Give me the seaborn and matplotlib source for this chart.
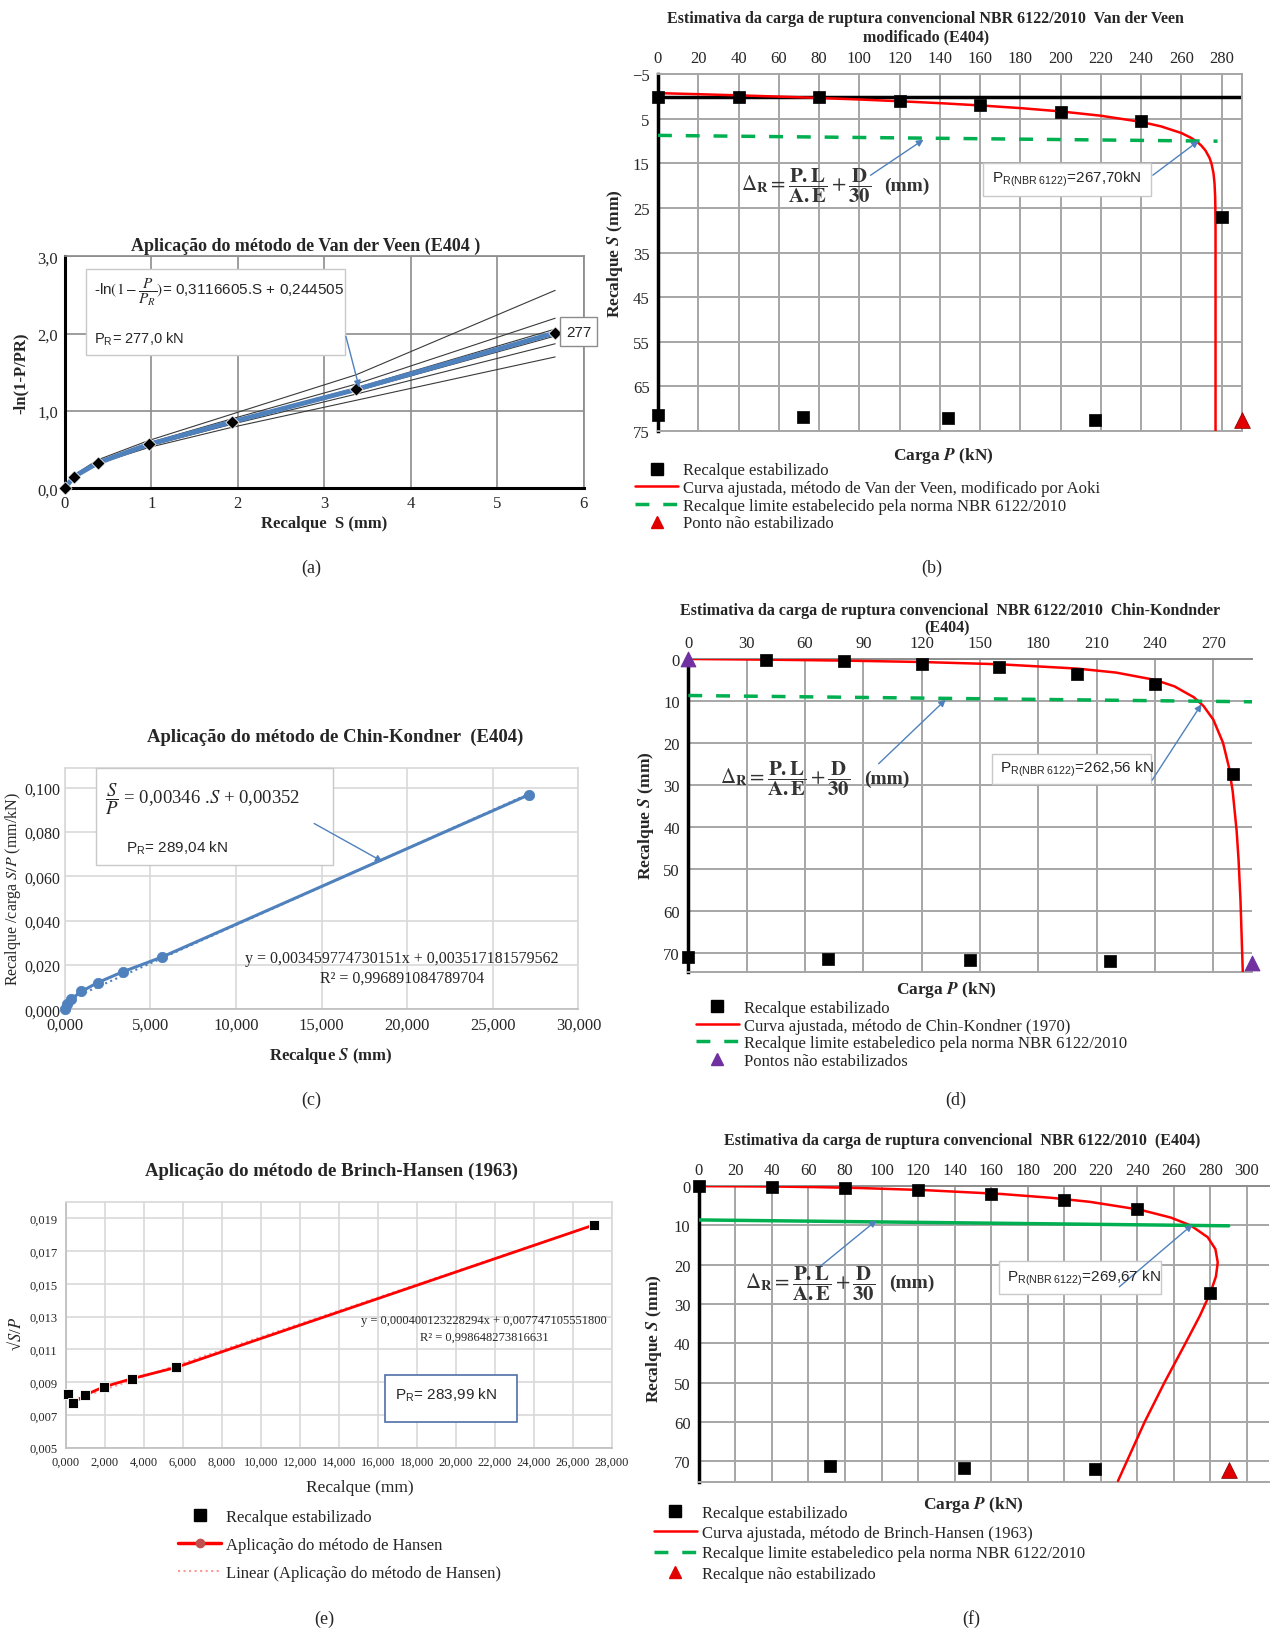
import numpy as np
import pandas as pd
import matplotlib
matplotlib.use('Agg')
import matplotlib.pyplot as plt
import seaborn as sns
from matplotlib.ticker import FuncFormatter
from matplotlib.patches import Rectangle, FancyArrowPatch
from matplotlib.lines import Line2D

# ---------------- DATA ----------------
# (a) Van der Veen linearisation
a_S = [0.0, 0.1, 0.38, 0.97, 1.93, 3.37, 5.67]
a_Y = [0.0, 0.15, 0.33, 0.57, 0.86, 1.28, 2.01]
a_fan_1 = [0.0, 0.17, 0.37, 0.62, 0.96, 1.47, 2.56]
a_fan_2 = [0.0, 0.16, 0.35, 0.59, 0.90, 1.35, 2.20]
a_fan_3 = [0.0, 0.16, 0.34, 0.57, 0.87, 1.30, 2.06]
a_fan_4 = [0.0, 0.16, 0.34, 0.56, 0.85, 1.26, 1.97]
a_fan_5 = [0.0, 0.15, 0.33, 0.55, 0.83, 1.22, 1.87]
a_fan_6 = [0.0, 0.15, 0.32, 0.53, 0.79, 1.14, 1.70]

# load-settlement test data (b, d, f)
load_P = [0, 40, 80, 120, 160, 200, 240, 280]
b_S = [0.0, 0.1, 0.2, 1.0, 1.8, 3.4, 5.5, 27.0]
d_S = [0.0, 0.2, 0.6, 1.2, 2.0, 3.6, 5.9, 27.3]
f_S = [0.0, 0.2, 0.5, 1.1, 2.1, 3.5, 5.8, 27.3]
low_P_b = [0, 72, 144, 217]
low_S_b = [71.4, 71.9, 72.2, 72.6]
low_P_d = [0, 72, 145, 217]
low_S_d = [71.1, 71.4, 71.6, 71.9]
low_P_f = [72, 145, 217]
low_S_f = [71.3, 71.6, 71.9]
unst_P = 290
unst_S_b = 72.5
unst_S_d = 72.5
unst_S_f = 72.3

# (b) fitted Van der Veen (Aoki) curve
vdv_P = [0, 20, 40, 60, 80, 100, 120, 140, 160, 180, 200, 220, 240, 250, 260, 265,
         268, 270, 272, 274, 275, 276, 276.5, 276.8, 276.9, 277.0, 277.0]
vdv_S = [-0.78, -0.54, -0.28, 0.0, 0.31, 0.65, 1.04, 1.47, 1.98, 2.58, 3.32, 4.29, 5.67, 6.69, 8.17, 9.29,
         10.21, 11.02, 12.1, 13.73, 15.04, 17.26, 19.49, 22.42, 24.65, 30.0, 75.0]
# (d) fitted Chin-Kondner curve
chin_P = [0, 40, 80, 120, 160, 200, 220, 240, 250, 260, 265, 270, 275, 278, 280, 282, 283, 284, 285.2]
chin_S = [0.0, 0.16, 0.39, 0.72, 1.26, 2.29, 3.24, 4.98, 6.52, 9.12, 11.22, 14.44, 19.96, 25.67, 31.6,
          40.9, 47.8, 57.6, 75.0]
# (f) fitted Brinch-Hansen curve
bh_S = [0, 0.1, 0.25, 0.5, 1, 2, 3, 4, 6, 8, 10, 13, 16, 19.4, 23, 27, 33, 40, 50, 60, 75]
bh_P = [0, 40.6, 63.7, 89.0, 122.7, 165.5, 193.6, 214.0, 241.4, 258.3, 269.2, 278.5, 282.7, 284.0,
        283.0, 280.1, 274.2, 266.3, 254.8, 244.0, 229.4]
# NBR 6122 limit line (P, S)
lim_P = [0, 278]
lim_S_b = [8.7, 10.0]
lim_P_d = [0, 290]
lim_S_d = [8.7, 10.2]
lim_P_f = [0, 290]
lim_S_f = [8.6, 10.1]

# (c) Chin-Kondner linearisation
c_S = [0.0, 0.1, 0.38, 0.97, 1.93, 3.37, 5.67, 27.1]
c_Y = [0.0, 0.0025, 0.0047, 0.0081, 0.0121, 0.0169, 0.0236, 0.0968]
c_trend_S = [0.0, 27.1]
c_trend_Y = [0.0035, 0.0972]

# (e) Brinch-Hansen linearisation
e_S = [0.11, 0.38, 0.97, 1.93, 3.37, 5.67, 27.1]
e_Y = [0.0083, 0.0077, 0.0082, 0.0087, 0.0092, 0.0099, 0.0186]
e_trend_S = [0.38, 27.1]
e_trend_Y = [0.0079, 0.0186]

# ---------------- STYLE ----------------
sns.set_theme(style='white')
plt.rcParams['font.family'] = ['Liberation Serif', 'DejaVu Serif']
plt.rcParams['mathtext.fontset'] = 'stix'

W, H = 1215.0, 1568.0
fig = plt.figure(figsize=(12.71, 16.40), dpi=100)
SANS = ['Liberation Sans', 'DejaVu Sans']
BLUE = '#4f81bd'
RED = '#ff0000'
GREEN = '#00b050'
PURPLE = '#7030a0'


def F(x, y):
    return (x / W, 1 - y / H)


def add_ax(x0, y0, x1, y1):
    return fig.add_axes([x0 / W, 1 - y1 / H, (x1 - x0) / W, (y1 - y0) / H])


def comma(fmt):
    return FuncFormatter(lambda v, p: format(v, fmt).replace('.', ','))


def box(x0, y0, x1, y1, ec='#c8c8c8', lw=1.0):
    fig.add_artist(Rectangle((x0 / W, 1 - y1 / H), (x1 - x0) / W, (y1 - y0) / H,
                             transform=fig.transFigure, fc='white', ec=ec, lw=lw, zorder=5))


def arrow(x0, y0, x1, y1, color=BLUE):
    fig.add_artist(FancyArrowPatch(F(x0, y0), F(x1, y1), transform=fig.transFigure,
                                   arrowstyle='-|>', mutation_scale=10, color=color, lw=1.0, zorder=6))


def T(x, y, s, **kw):
    kw.setdefault('ha', 'center')
    kw.setdefault('va', 'center')
    kw.setdefault('zorder', 7)
    return fig.text(*F(x, y), s, **kw)


def style_settle(ax, xmax, ymax, ytop, xt, yt, right=True):
    ax.set_xlim(0, xmax)
    ax.set_ylim(ymax, ytop)
    ax.xaxis.tick_top()
    ax.set_xticks(xt)
    ax.set_yticks(yt)
    ax.grid(True, color='#a6a6a6', lw=1.4)
    ax.tick_params(length=0, labelsize=12, pad=6)
    for s in ['top', 'bottom', 'right']:
        ax.spines[s].set_color('#a6a6a6')
        ax.spines[s].set_linewidth(1.4)
    ax.spines['right'].set_visible(right)
    ax.spines['left'].set_color('black')
    ax.spines['left'].set_linewidth(2.5)
    ax.set_xlabel('')
    ax.set_ylabel('')


def formula(x, y, xmm):
    T(x, y, r'$\Delta_{\mathbf{R}}=\dfrac{\mathbf{P.L}}{\mathbf{A.E}}+\dfrac{\mathbf{D}}{\mathbf{30}}$',
      fontsize=15, color='#333333', ha='left')
    T(xmm, y, '(mm)', fontsize=14, fontweight='bold', color='#333333', ha='left')


def settle_legend(x, y, handles, labels, hl=2.6, spacing=0.1):
    fig.legend(handles, labels, loc='upper left', bbox_to_anchor=F(x, y), frameon=False,
               fontsize=12, handlelength=hl, handletextpad=0.3, labelspacing=spacing,
               borderpad=0, borderaxespad=0)


sq = dict(marker='s', color='black', s=75, edgecolor='black', linewidth=0.5, zorder=5, clip_on=False)

# ================= (a) =================
ax = add_ax(62, 246, 558, 468)
for fan in [a_fan_1, a_fan_2, a_fan_3, a_fan_4, a_fan_5, a_fan_6]:
    sns.lineplot(x=a_S, y=fan, ax=ax, color='#3a3a3a', lw=0.8, estimator=None, sort=False)
sns.lineplot(x=a_S, y=a_Y, ax=ax, color=BLUE, lw=3.5, estimator=None, sort=False, zorder=3)
sns.scatterplot(x=a_S, y=a_Y, ax=ax, marker='D', color='black', s=45, zorder=5, clip_on=False)
ax.set_xlim(0, 6)
ax.set_ylim(0, 3)
ax.set_xticks(range(0, 7))
ax.set_yticks([0, 1, 2, 3])
ax.yaxis.set_major_formatter(comma('.1f'))
ax.grid(True, color='#8c8c8c', lw=1.2)
ax.tick_params(length=0, labelsize=12, pad=5)
for s in ['top', 'right']:
    ax.spines[s].set_color('#8c8c8c')
for s in ['left', 'bottom']:
    ax.spines[s].set_color('black')
    ax.spines[s].set_linewidth(2.2)
T(292, 236, 'Aplicação do método de Van der Veen (E404 )', fontsize=13, fontweight='bold')
T(310, 501, 'Recalque  S (mm)', fontsize=12, fontweight='bold')
T(20, 357, '-ln(1-P/PR)', fontsize=12, fontweight='bold', rotation=90)
box(82, 258, 330, 340)
T(90, 280, r'-ln$(1-\dfrac{P}{P_R})$= 0,3116605.S + 0,244505', fontsize=11, family=SANS, ha='left')
T(90, 325, r'P$_\mathregular{R}$= 277,0 kN', fontsize=10.5, family=SANS, ha='left')
box(535, 304, 571, 332, ec='#8c8c8c')
T(553, 318, '277', fontsize=11, family=SANS)
arrow(330, 320, 344, 374)

# ================= (b) =================
ax = add_ax(629, 72, 1187, 413)
ax.axhline(0, color='black', lw=2.5, zorder=2)
sns.lineplot(x=vdv_P, y=vdv_S, ax=ax, color=RED, lw=1.8, estimator=None, sort=False, zorder=3)
sns.lineplot(x=lim_P, y=lim_S_b, ax=ax, color=GREEN, lw=2.5, dashes=False, estimator=None, zorder=3)
ax.lines[-1].set_linestyle((0, (4, 4)))
sns.scatterplot(x=load_P, y=b_S, ax=ax, **sq)
sns.scatterplot(x=low_P_b, y=low_S_b, ax=ax, **sq)
sns.scatterplot(x=[unst_P], y=[unst_S_b], ax=ax, marker='^', color='#e00000', s=130,
                edgecolor='#800000', linewidth=0.5, zorder=5, clip_on=False)
style_settle(ax, 290, 75, -5, range(0, 281, 20), range(-5, 76, 10))
T(885, 18, 'Estimativa da carga de ruptura convencional NBR 6122/2010  Van der Veen',
  fontsize=11.5, fontweight='bold')
T(885, 36, 'modificado (E404)', fontsize=11.5, fontweight='bold')
T(902, 436, r'Carga $\boldsymbol{P}$ (kN)', fontsize=12.5, fontweight='bold')
T(588, 243, r'Recalque $\boldsymbol{S}$ (mm)', fontsize=12.5, fontweight='bold', rotation=90)
formula(708, 178, 845)
arrow(830, 170, 885, 133)
box(940, 157, 1100, 188)
T(948, 172, r'P$_\mathregular{R(NBR\ 6122)}$=267,70kN', fontsize=11, family=SANS, ha='left')
arrow(1100, 170, 1148, 134)
h = [Line2D([], [], ls='none', marker='s', color='black', ms=8),
     Line2D([], [], color=RED, lw=1.8),
     Line2D([], [], color=GREEN, lw=2.5, ls=(0, (4, 4))),
     Line2D([], [], ls='none', marker='^', color='#e00000', ms=8)]
settle_legend(607, 443, h, ['Recalque estabilizado',
                            'Curva ajustada, método de Van der Veen, modificado por Aoki',
                            'Recalque limite estabelecido pela norma NBR 6122/2010',
                            'Ponto não estabilizado'])

# ================= (c) =================
ax = add_ax(62, 735, 553, 966)
sns.lineplot(x=c_trend_S, y=c_trend_Y, ax=ax, color=BLUE, lw=1.5, estimator=None, zorder=2)
ax.lines[-1].set_linestyle(':')
sns.lineplot(x=c_S, y=c_Y, ax=ax, color=BLUE, lw=2.2, estimator=None, sort=False, zorder=3)
sns.scatterplot(x=c_S, y=c_Y, ax=ax, color=BLUE, s=55, edgecolor=BLUE, zorder=4, clip_on=False)
ax.set_xlim(0, 30)
ax.set_ylim(0, 0.109)
ax.set_xticks(range(0, 31, 5))
ax.set_yticks([0, 0.02, 0.04, 0.06, 0.08, 0.1])
ax.xaxis.set_major_formatter(comma('.3f'))
ax.yaxis.set_major_formatter(comma('.3f'))
ax.grid(True, color='#d9d9d9', lw=1.2)
ax.tick_params(axis='x', length=0, labelsize=12, pad=5)
ax.tick_params(axis='y', length=0, labelsize=11.5, pad=3)
for s in ['top', 'right', 'left']:
    ax.spines[s].set_color('#d9d9d9')
ax.spines['bottom'].set_color('#bfbfbf')
T(320, 705, 'Aplicação do método de Chin-Kondner  (E404)', fontsize=13.5, fontweight='bold')
T(316, 1010, r'Recalque $\boldsymbol{S}$ (mm)', fontsize=12, fontweight='bold')
T(12, 850, r'Recalque /carga $S/P$ (mm/kN)', fontsize=11.5, rotation=90)
box(92, 735, 318, 828)
T(100, 764, r'$\dfrac{S}{P}$ = 0,00346 .$S$ + 0,00352', fontsize=13.5, ha='left')
T(120, 811, r'P$_\mathregular{R}$= 289,04 kN', fontsize=11, family=SANS, ha='left')
arrow(298, 787, 368, 826)
T(384, 917, 'y = 0,003459774730151x + 0,003517181579562', fontsize=11.5)
T(384, 936, 'R² = 0,996891084789704', fontsize=11.5)

# ================= (d) =================
ax = add_ax(658, 631, 1197, 930)
sns.lineplot(x=chin_P, y=chin_S, ax=ax, color=RED, lw=1.8, estimator=None, sort=False, zorder=3)
sns.lineplot(x=lim_P_d, y=lim_S_d, ax=ax, color=GREEN, lw=2.5, estimator=None, zorder=3)
ax.lines[-1].set_linestyle((0, (4, 4)))
sns.scatterplot(x=load_P[1:], y=d_S[1:], ax=ax, **sq)
sns.scatterplot(x=low_P_d, y=low_S_d, ax=ax, **sq)
sns.scatterplot(x=[0, unst_P], y=[0, unst_S_d], ax=ax, marker='^', color=PURPLE, s=110,
                edgecolor=PURPLE, zorder=6, clip_on=False)
style_settle(ax, 290, 74.5, 0, range(0, 271, 30), range(0, 71, 10), right=False)
ax.spines['top'].set_color('#8c8c8c')
T(908, 584, 'Estimativa da carga de ruptura convencional  NBR 6122/2010  Chin-Kondnder',
  fontsize=11.5, fontweight='bold')
T(905, 601, '(E404)', fontsize=11.5, fontweight='bold')
T(905, 947, r'Carga $\boldsymbol{P}$ (kN)', fontsize=12.5, fontweight='bold')
T(618, 780, r'Recalque $\boldsymbol{S}$ (mm)', fontsize=12.5, fontweight='bold', rotation=90)
formula(688, 745, 826)
arrow(838, 733, 906, 668)
box(948, 722, 1100, 751)
T(956, 736, r'P$_\mathregular{R(NBR\ 6122)}$=262,56 kN', fontsize=11, family=SANS, ha='left')
arrow(1100, 749, 1150, 672)
h = [Line2D([], [], ls='none', marker='s', color='black', ms=8),
     Line2D([], [], color=RED, lw=1.8),
     Line2D([], [], color=GREEN, lw=2.5, ls=(0, (4, 4))),
     Line2D([], [], ls='none', marker='^', color=PURPLE, ms=8)]
settle_legend(665, 957, h, ['Recalque estabilizado',
                            'Curva ajustada, método de Chin-Kondner (1970)',
                            'Recalque limite estabeledico pela norma NBR 6122/2010',
                            'Pontos não estabilizados'])

# ================= (e) =================
ax = add_ax(63, 1150, 585, 1385)
sns.lineplot(x=e_trend_S, y=e_trend_Y, ax=ax, color='#ff9999', lw=1.5, estimator=None, zorder=2)
ax.lines[-1].set_linestyle(':')
sns.lineplot(x=e_S[1:], y=e_Y[1:], ax=ax, color=RED, lw=2.0, estimator=None, sort=False, zorder=3)
sns.scatterplot(x=e_S, y=e_Y, ax=ax, marker='s', color='black', s=60, zorder=4, clip_on=False)
ax.set_xlim(0, 28)
ax.set_ylim(0.005, 0.020)
ax.set_xticks(range(0, 29, 2))
ax.set_yticks([0.005, 0.007, 0.009, 0.011, 0.013, 0.015, 0.017, 0.019])
ax.xaxis.set_major_formatter(comma('.3f'))
ax.yaxis.set_major_formatter(comma('.3f'))
ax.grid(True, color='#d9d9d9', lw=1.2)
ax.tick_params(length=0, labelsize=9, pad=6)
for s in ['top', 'right', 'left', 'bottom']:
    ax.spines[s].set_color('#d9d9d9')
ax.spines['left'].set_color('#bfbfbf')
ax.spines['bottom'].set_color('#bfbfbf')
T(317, 1120, 'Aplicação do método de Brinch-Hansen (1963)', fontsize=13.5, fontweight='bold')
T(344, 1423, 'Recalque (mm)', fontsize=12.5)
T(15, 1275, r'√$S$/$P$', fontsize=12, rotation=90)
T(463, 1263, 'y = 0,000400123228294x + 0,007747105551800', fontsize=9)
T(463, 1279, 'R² = 0,998648273816631', fontsize=9)
box(368, 1316, 494, 1361, ec='#4f6fa8', lw=1.2)
T(378, 1334, r'P$_\mathregular{R}$= 283,99 kN', fontsize=11, family=SANS, ha='left')
h = [Line2D([], [], ls='none', marker='s', color='black', ms=8),
     Line2D([], [], color=RED, lw=2.5, marker='o', ms=6, mfc='#c0504d', mec='#c0504d'),
     Line2D([], [], color='#ff9999', lw=1.5, ls=':')]
settle_legend(170, 1444, h, ['Recalque estabilizado',
                             'Aplicação do método de Hansen',
                             'Linear (Aplicação do método de Hansen)'], spacing=0.72)

# ================= (f) =================
ax = add_ax(668, 1135, 1213, 1418)
sns.lineplot(x=bh_P, y=bh_S, ax=ax, color=RED, lw=1.8, estimator=None, sort=False, zorder=3)
sns.lineplot(x=lim_P_f, y=lim_S_f, ax=ax, color='#00b050', lw=2.5, estimator=None, zorder=3)
sns.scatterplot(x=load_P, y=f_S, ax=ax, **sq)
sns.scatterplot(x=low_P_f, y=low_S_f, ax=ax, **sq)
sns.scatterplot(x=[unst_P], y=[unst_S_f], ax=ax, marker='^', color='#e00000', s=130,
                edgecolor='#800000', linewidth=0.5, zorder=5, clip_on=False)
style_settle(ax, 312, 75.3, 0, range(0, 301, 20), range(0, 71, 10), right=False)
ax.spines['top'].set_color('#8c8c8c')
T(920, 1091, 'Estimativa da carga de ruptura convencional  NBR 6122/2010  (E404)',
  fontsize=11.5, fontweight='bold')
T(930, 1439, r'Carga $\boldsymbol{P}$ (kN)', fontsize=12.5, fontweight='bold')
T(625, 1280, r'Recalque $\boldsymbol{S}$ (mm)', fontsize=12.5, fontweight='bold', rotation=90)
formula(712, 1227, 850)
arrow(780, 1215, 840, 1166)
box(955, 1207, 1110, 1238)
T(963, 1222, r'P$_\mathregular{R(NBR\ 6122)}$=269,67 kN', fontsize=11, family=SANS, ha='left')
arrow(1068, 1233, 1142, 1170)
h = [Line2D([], [], ls='none', marker='s', color='black', ms=8),
     Line2D([], [], color=RED, lw=1.8),
     Line2D([], [], color=GREEN, lw=2.5, ls=(0, (4, 4))),
     Line2D([], [], ls='none', marker='^', color='#e00000', ms=8)]
settle_legend(625, 1440, h, ['Recalque estabilizado',
                             'Curva ajustada, método de Brinch-Hansen (1963)',
                             'Recalque limite estabeledico pela norma NBR 6122/2010',
                             'Recalque não estabilizado'], spacing=0.25)

# ---------------- sub-labels ----------------
for (x, y, s) in [(298, 543, '(a)'), (891, 543, '(b)'), (298, 1052, '(c)'),
                  (914, 1052, '(d)'), (310, 1548, '(e)'), (928, 1548, '(f)')]:
    T(x, y, s, fontsize=13)

fig.savefig('out.png', dpi=100)
